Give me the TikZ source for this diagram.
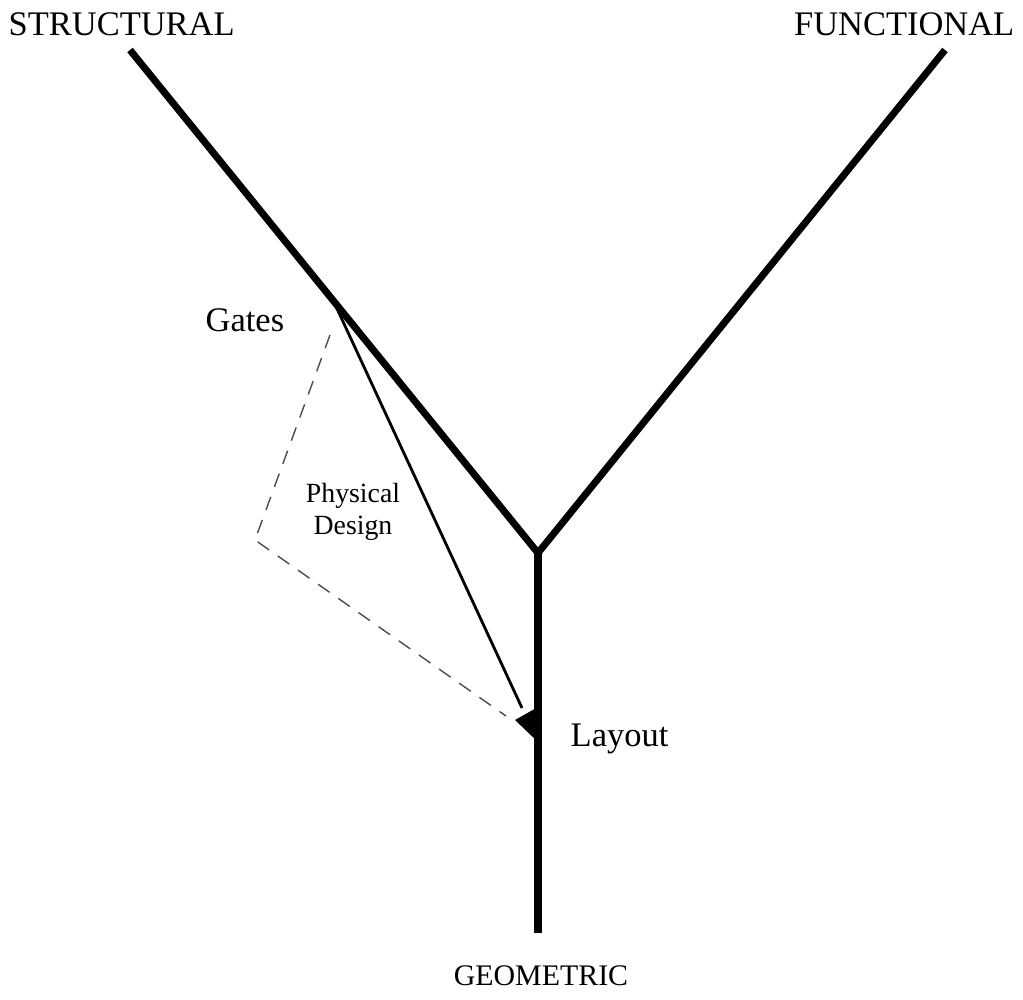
\documentclass[tikz,border=0pt]{standalone}
\usepackage{fontspec}
\setmainfont{Liberation Serif}
\begin{document}
\begin{tikzpicture}[x=0.01cm,y=-0.01cm,
  axis/.style={line width=2pt},
  thinline/.style={line width=0.8pt},
  dashline/.style={line width=0.4pt,dash pattern=on 4pt off 3pt,black!70},
  big/.style={font=\fontsize{9.8}{11}\selectfont,inner sep=0pt},
  small/.style={font=\fontsize{7.9}{9}\selectfont,inner sep=0pt,align=center}]
\useasboundingbox (0,0) rectangle (1023,1000);
\coordinate (s) at (130,50);
\coordinate (f) at (945,50);
\coordinate (c) at (538,553);
\coordinate (g) at (538,933);
\coordinate (gates) at (333,300);
\coordinate (lay) at (538,720);
\coordinate (tip) at (515,720);
\coordinate (bend) at (255,540);
\draw[axis] (s) -- (c) -- (f);
\draw[axis] (c) -- (g);
\draw[thinline] (gates) -- (522,708);
\fill (tip) -- (538,707) -- (538,742) -- cycle;
\draw[dashline] (330,335) -- (bend) -- (506,716);
\node[big,anchor=base west] (ns) at (8,35) {STRUCTURAL};
\node[big,anchor=base east] (nf) at (1015,35) {FUNCTIONAL};
\node[big,font=\fontsize{8.5}{10}\selectfont,anchor=base] (ng) at (541,985) {GEOMETRIC};
\node[big,anchor=base west] (ngates) at (205,331) {Gates};
\node[big,anchor=base west] (nlay) at (570,746) {Layout};
\node[small] (npd) at (353,512) {Physical\\Design};
\end{tikzpicture}
\end{document}
